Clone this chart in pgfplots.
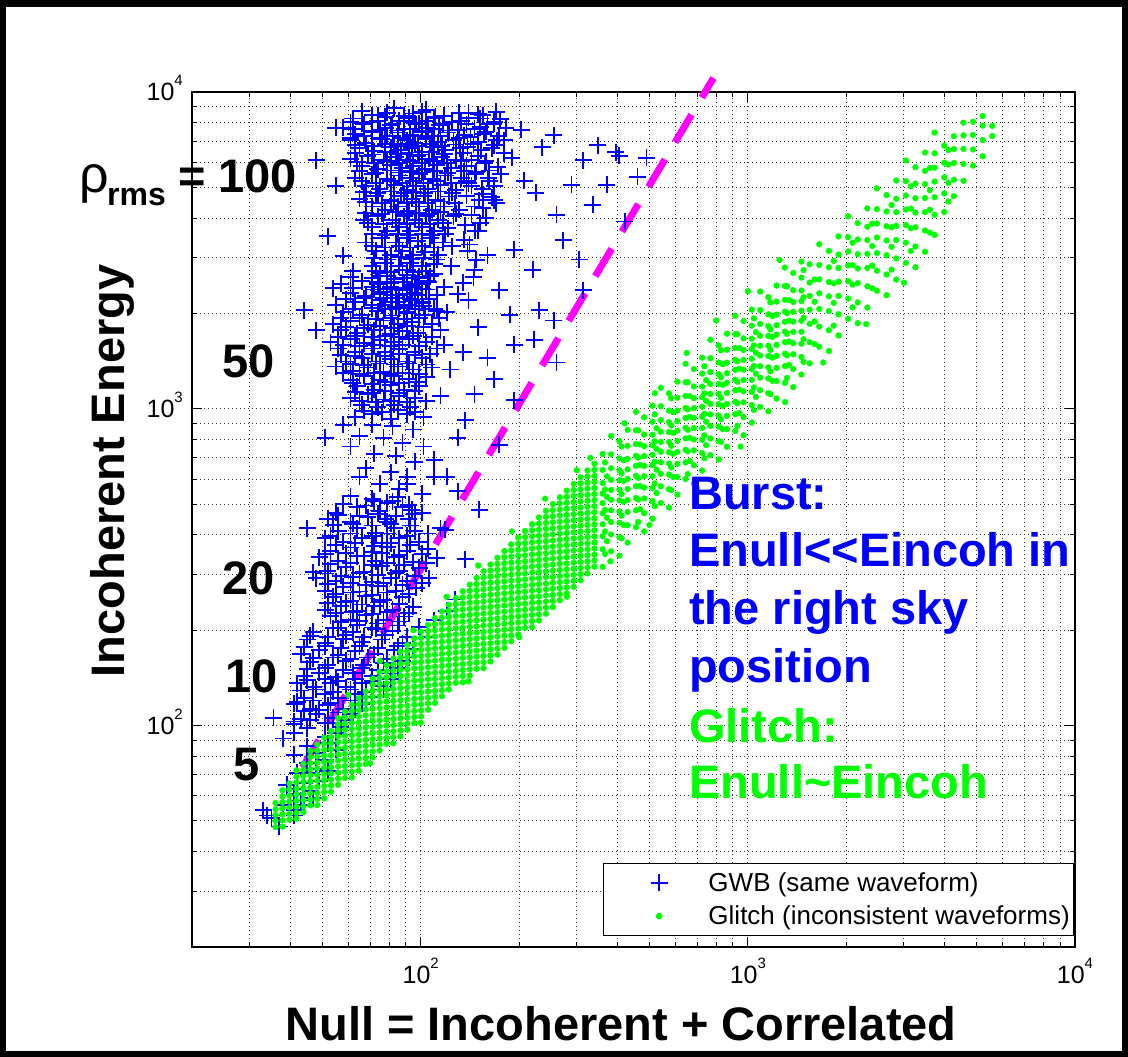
\documentclass[border=0pt]{standalone}
\usepackage{fontspec}
\setmainfont{Liberation Sans}
\usepackage{pgfplots}
\pgfplotsset{compat=1.18}
\definecolor{mblue}{RGB}{0,0,255}
\definecolor{mgreen}{RGB}{0,255,0}
\definecolor{mmag}{RGB}{255,0,255}
\newcommand\tenp[1]{10\raisebox{0.6em}{\fontsize{15}{15}\selectfont #1}}
\tikzset{ticklab/.style={inner sep=0pt, font=\fontsize{25}{25}\selectfont}}
\begin{document}
\begin{tikzpicture}
\fill[black] (0pt,0pt) rectangle (1128pt,-1057pt);
\fill[white] (6pt,-7pt) rectangle (1122pt,-1051pt);
\begin{axis}[
  at={(192pt,-947pt)}, anchor=south west,
  scale only axis, width=883pt, height=855pt,
  xmode=log, ymode=log,
  xmin=20, xmax=10000, ymin=20, ymax=10000,
  clip=false,
  axis line style={line width=1.2pt, black},
  xtick={100,1000,10000}, ytick={100,1000,10000},
  xticklabels={}, yticklabels={},
  minor xtick={30,40,50,60,70,80,90,200,300,400,500,600,700,800,900,2000,3000,4000,5000,6000,7000,8000,9000},
  minor ytick={30,40,50,60,70,80,90,200,300,400,500,600,700,800,900,2000,3000,4000,5000,6000,7000,8000,9000},
  tick align=inside, xtick pos=both, ytick pos=both,
  major tick length=10pt, minor tick length=5pt,
  every tick/.style={black, line width=0.9pt},
  grid=both,
  major grid style={black!80, line width=0.9pt, dash pattern=on 1pt off 3pt},
  minor grid style={black!80, line width=0.9pt, dash pattern=on 1pt off 3pt},
  legend style={at={(0.999,0.098)}, anchor=north east, draw=black, line width=0.8pt,
    fill=white, font=\fontsize{26}{30}\selectfont, inner xsep=2pt, inner ysep=7pt,
    row sep=9pt, cells={anchor=west}},
  legend image code/.code={\path (0pt,0pt) (100pt,0pt); \draw[#1] plot coordinates {(53pt,0pt)};},
]
% GWB injections, five amplitude groups
\addplot[only marks, mark=+, mark size=8.5pt, mblue, mark options={draw=mblue, line width=1.9pt}] coordinates {
(66,8700)(74,8450)(83,8900)(95,8550)(104,8800)(118,8400)
(62,8250)(71,8050)(78,8350)(86,8100)(92,8300)(99,7950)(110,8250)(125,8050)(140,8300)
(58,7700)(67,7900)(75,7600)(81,7850)(89,7650)(97,7900)(105,7700)(114,7850)(130,7600)(160,7900)
(63,7350)(71,7500)(79,7250)(85,7450)(93,7300)(101,7500)(108,7250)(121,7450)(136,7300)
(61,7050)(68,6900)(76,7100)(83,6850)(91,7050)(96,6900)(104,7100)(113,6950)(126,7050)(145,6850)
(65,6650)(72,6500)(81,6700)(87,6550)(94,6650)(101,6450)(110,6700)(119,6550)(132,6650)
(61,6150)(69,6300)(77,6100)(84,6250)(91,6100)(98,6300)(106,6150)(116,6250)(128,6100)(150,6300)
(66,5850)(74,5700)(81,5900)(88,5750)(95,5850)(103,5700)(112,5900)(124,5750)(138,5850)
(63,5350)(71,5500)(79,5300)(86,5450)(93,5350)(99,5500)(109,5300)(119,5450)(133,5350)
(68,5050)(75,4950)(83,5100)(91,4900)(97,5050)(105,4950)(115,5100)(128,4900)(143,5050)
(65,4600)(73,4700)(81,4550)(87,4700)(94,4600)(102,4700)(111,4550)(122,4680)
(71,4350)(78,4250)(85,4350)(92,4200)(99,4350)(108,4250)(118,4350)(131,4250)
(67,3950)(74,4050)(82,3950)(89,4050)(96,3950)(104,4050)(113,3950)(126,4050)
(71,3750)(79,3650)(86,3750)(93,3650)(101,3750)(110,3650)(121,3720)
(68,3350)(76,3450)(84,3350)(91,3450)(98,3380)(107,3450)(117,3350)(136,3420)
(73,3150)(81,3050)(88,3150)(95,3050)(103,3130)(113,3060)
(71,2820)(78,2880)(86,2820)(93,2880)(101,2820)(110,2870)(124,2820)
(75,2630)(83,2570)(91,2640)(98,2580)(107,2620)
(72,2380)(81,2420)(88,2370)(96,2430)(104,2380)(118,2420)
(77,2230)(85,2180)(93,2220)(101,2170)
(74,2030)(82,2070)(91,2020)(99,2060)(112,2040)
(71,8450)(79,8600)(89,8400)(101,8650)(111,8350)(131,8600)
(61,8020)(66,7980)(74,8100)(82,7950)(89,8120)(96,7980)(104,8100)(117,7950)(133,8100)
(62,7620)(71,7550)(78,7680)(85,7560)(93,7640)(101,7560)(110,7650)(122,7560)(146,7650)
(61,7180)(67,7250)(75,7150)(82,7260)(88,7140)(95,7240)(104,7160)(115,7250)(131,7150)
(63,6820)(71,6760)(78,6850)(85,6750)(92,6840)(98,6760)(107,6850)(116,6760)(128,6830)
(63,6420)(71,6350)(78,6450)(85,6360)(92,6440)(99,6350)(108,6450)(118,6370)(135,6420)
(64,6020)(72,5960)(79,6050)(86,5950)(93,6040)(101,5960)(109,6050)(120,5960)(133,6040)
(65,5620)(73,5560)(81,5650)(87,5570)(94,5630)(101,5570)(110,5640)(121,5560)(136,5620)
(66,5220)(73,5160)(81,5240)(88,5170)(95,5230)(102,5160)(112,5240)(124,5170)(138,5220)
(67,4830)(74,4790)(81,4850)(89,4790)(95,4840)(103,4790)(113,4850)(125,4800)
(68,4490)(76,4450)(83,4510)(91,4460)(97,4500)(105,4450)(115,4510)(127,4460)
(68,4160)(76,4120)(84,4170)(91,4130)(97,4160)(106,4120)(115,4170)(128,4130)
(69,3860)(77,3830)(84,3870)(91,3830)(99,3860)(107,3830)(117,3870)
(71,3560)(78,3530)(85,3570)(92,3530)(101,3560)(108,3530)(119,3560)
(71,3260)(78,3230)(86,3270)(93,3230)(101,3260)(110,3230)(125,3260)
(72,2990)(79,2960)(87,3010)(94,2970)(102,2990)(112,2960)
(73,2730)(81,2700)(88,2740)(95,2710)(104,2730)
(74,2510)(81,2490)(89,2510)(97,2480)(106,2510)
(75,2310)(82,2290)(91,2310)(98,2280)
(76,2120)(84,2100)(92,2130)(102,2110)
(140,8600)(155,8450)(170,8650)(138,7900)(152,7750)(167,7950)(182,7700)(142,7200)
(156,7350)(171,7050)(139,6700)(153,6550)(168,6800)(180,6400)(143,6100)(157,5950)
(147,5500)(161,5350)(176,5500)(140,5150)(154,4950)(168,5050)(138,4700)(151,4550)
(165,4650)(143,4100)(158,4010)(137,3800)(150,3650)(139,3150)(146,2750)(135,2500)
(152,8250)(168,8050)(158,7500)(173,7250)(150,6950)(165,6650)(158,6050)(172,5800)
(148,5600)(162,5250)(155,4750)(170,4450)(146,4350)(152,3850)(141,3300)(148,2950)
(235,6700)(255,7300)(314,6100)(405,6300)(490,6200)(289,5100)(336,4400)(273,3400)
(193,3180)(220,2750)(314,2370)(187,1980)(255,1900)(168,4550)(162,5650)(180,7050)
(207,5250)(147,3650)(348,6800)(395,6450)(460,5400)(55,7700)(55,5050)(54,2400)
(44,2050)(48,6100)(52,3500)(58,3040)(150,8500)(175,8200)(203,7600)(160,3050)
(145,2600)(130,2300)(155,4300)(190,6200)(225,4800)(260,4100)(305,2960)(370,5100)(420,3900)
(62,2720)(75,2680)(91,2740)(110,2670)
(57,2480)(66,2530)(74,2470)(83,2520)(94,2460)(105,2540)
(61,2320)(68,2270)(77,2330)(86,2280)(96,2320)(112,2290)
(55,2130)(63,2170)(71,2120)(81,2180)(89,2130)(101,2160)
(58,2020)(66,1980)(74,2030)(82,1970)(91,2010)(103,1980)(120,2020)
(54,1850)(61,1890)(69,1840)(77,1900)(85,1850)(94,1880)(108,1850)
(57,1770)(64,1730)(72,1770)(81,1720)(88,1760)(98,1730)(115,1770)
(53,1620)(61,1660)(67,1610)(75,1650)(83,1620)(92,1660)(104,1620)
(56,1550)(63,1510)(71,1550)(78,1510)(86,1540)(96,1510)(112,1550)(135,1510)
(59,1410)(66,1450)(73,1410)(81,1440)(91,1410)(101,1450)
(55,1360)(62,1320)(69,1350)(77,1310)(85,1360)(95,1330)(108,1350)
(61,1230)(67,1270)(75,1230)(83,1270)(92,1240)(104,1260)
(64,1180)(72,1150)(81,1190)(89,1150)(99,1180)
(61,1080)(69,1110)(77,1070)(86,1100)(96,1080)(115,1100)
(66,1030)(74,1010)(83,1030)(93,1010)
(63,940)(71,960)(81,930)(91,960)(102,940)
(61,2600)(71,2580)(79,2620)(88,2590)(99,2610)
(62,2400)(71,2420)(79,2390)(88,2410)(101,2390)
(59,2220)(67,2230)(75,2210)(84,2230)(94,2210)(106,2220)
(62,2070)(71,2080)(78,2060)(86,2080)(96,2060)(110,2070)
(57,1930)(65,1940)(73,1920)(81,1940)(89,1920)(99,1940)(114,1930)
(59,1810)(67,1800)(75,1820)(83,1800)(91,1820)(102,1810)
(56,1690)(63,1700)(71,1680)(78,1700)(86,1680)(95,1700)(108,1690)
(58,1585)(65,1575)(72,1595)(81,1580)(88,1590)(99,1580)(118,1590)
(57,1480)(63,1470)(71,1490)(78,1470)(86,1485)(96,1475)(107,1485)
(61,1385)(67,1375)(75,1390)(83,1380)(92,1390)(104,1380)
(58,1295)(65,1285)(72,1300)(81,1290)(88,1300)(99,1290)
(62,1210)(71,1200)(78,1215)(86,1205)(97,1215)
(63,1130)(71,1125)(78,1135)(86,1125)(96,1135)
(65,1055)(73,1050)(81,1060)(91,1050)(104,1055)
(67,985)(76,975)(85,990)(96,980)
(71,890)(82,880)(95,860)(65,820)(77,810)(88,780)(102,760)(72,720)(84,710)(96,680)
(68,650)(81,630)(91,610)(75,580)(86,560)(101,540)(71,520)(82,510)(94,480)(78,450)
(110,690)(120,610)(61,760)(58,890)
(193,1590)(146,1110)(230,2050)(174,2370)(123,1330)(137,920)(168,1240)(222,1650)
(193,1065)(174,770)(48,1770)(51,810)(150,1810)(140,2200)(160,1450)(260,1400)(130,810)
(61,530)(72,510)(85,525)
(55,470)(64,490)(75,475)(88,490)(101,470)
(52,450)(61,440)(69,455)(79,440)(92,450)
(56,410)(64,420)(73,405)(83,420)(96,410)(115,420)
(51,390)(58,380)(66,392)(76,378)(86,390)(99,380)
(53,355)(61,365)(71,352)(79,366)(91,355)(105,362)
(49,340)(56,330)(64,342)(73,330)(83,340)(95,328)(112,338)
(52,308)(59,316)(67,306)(76,318)(86,308)(99,315)
(48,292)(55,286)(62,295)(71,284)(81,293)(91,286)(106,292)
(51,266)(58,274)(65,265)(74,275)(84,266)(97,272)
(54,255)(61,248)(68,256)(77,249)(88,255)
(51,232)(57,238)(64,230)(72,238)(82,232)(95,237)
(53,222)(61,216)(68,223)(77,216)(89,221)
(56,203)(64,208)(73,202)(85,207)
(58,502)(68,495)(79,505)(92,498)
(56,462)(65,458)(74,466)(84,458)(96,464)
(54,430)(62,434)(71,428)(81,434)(93,428)
(53,398)(61,404)(71,396)(79,404)(91,398)(105,404)
(55,372)(63,376)(72,370)(81,376)(93,372)
(51,347)(59,350)(67,344)(76,350)(86,345)(101,349)
(53,323)(61,326)(71,321)(79,326)(89,322)(104,325)
(51,302)(57,297)(65,303)(74,298)(84,303)(96,297)
(52,280)(61,282)(68,278)(77,282)(88,278)(101,281)
(55,261)(62,263)(71,259)(79,263)(92,260)
(52,243)(59,245)(66,241)(75,245)(86,242)
(55,227)(62,229)(71,225)(79,229)(92,226)
(57,212)(65,214)(74,210)(86,213)
(119,415)(137,335)(127,250)(151,480)(45,420)(47,305)(130,550)(110,610)(65,610)(91,580)
(47,198)(54,203)(62,197)(71,204)(82,199)
(45,187)(51,182)(58,188)(66,183)(76,187)(88,182)
(43,168)(49,173)(56,167)(63,172)(72,168)(83,173)
(46,159)(52,155)(59,160)(67,155)(77,158)
(44,143)(49,147)(55,142)(62,147)(71,143)(81,146)
(42,136)(47,132)(53,136)(59,132)(66,136)(75,133)
(44,122)(51,126)(56,122)(63,126)(71,123)
(41,117)(46,113)(52,116)(58,113)(66,117)
(43,105)(48,109)(54,106)(61,109)
(41,101)(45,98)(51,102)(57,99)
(46,192)(52,191)(59,193)(67,191)(78,193)(91,191)
(44,177)(51,178)(57,176)(65,178)(74,176)(85,178)
(47,163)(54,164)(61,162)(69,164)(79,162)(92,164)
(45,151)(51,152)(58,150)(66,152)(74,150)(85,152)
(45,139)(51,140)(56,138)(63,140)(71,138)(81,140)
(43,129)(48,130)(54,128)(61,130)(68,128)(77,130)
(42,119)(47,120)(53,118)(61,120)(68,118)
(44,111)(49,112)(56,110)(63,112)
(41,103)(46,104)(52,102)(59,104)
(95,175)(105,190)(88,160)(99,205)(110,215)(120,230)
(38,56)(41,61)(42,63)(44,66)(46,71)(48,73)(51,78)(41,54)(43,58)(46,62)(49,67)(52,72)
(39,65)(42,71)(45,76)(48,82)(52,88)(36,52)(35,51)(37,48)(41,52)(44,56)(47,59)(55,84)
(55,95)(51,92)(45,86)(41,81)(34,52)(33,54)(35.5,106)(38,91)(41,95)
};
\addlegendentry{GWB (same waveform)}
% glitches: null energy close to incoherent energy
\addplot[only marks, mark=*, mark size=2.9pt, mgreen, mark options={draw=mgreen, fill=mgreen}] coordinates {
(36,47.8)(36,50)(36,52.2)(36,54.5)(36,57)
(37.8,48)(37.8,50.2)(37.8,52.4)(37.8,54.8)(37.8,57.3)(37.8,59.8)(37.8,62.5)
(39.7,50.5)(39.7,52.7)(39.7,55.1)(39.7,57.6)(39.7,60.2)(39.7,62.9)(39.7,65.7)
(41.7,50.8)(41.7,53)(41.7,55.4)(41.7,57.9)(41.7,60.5)(41.7,63.2)(41.7,66.1)(41.7,69)(41.7,72.2)
(43.8,53.3)(43.8,55.6)(43.8,58.2)(43.8,60.8)(43.8,63.5)(43.8,66.4)(43.8,69.3)(43.8,72.5)(43.8,75.8)
(46,56)(46,58.4)(46,61.1)(46,63.8)(46,66.7)(46,69.7)(46,72.8)(46,76.1)(46,79.6)(46,83.1)
(48.3,56.1)(48.3,58.7)(48.3,61.3)(48.3,64.1)(48.3,67)(48.3,70)(48.3,73.2)(48.3,76.4)(48.3,79.9)(48.3,83.5)(48.3,87.2)
(50.7,58.9)(50.7,61.7)(50.7,64.4)(50.7,67.3)(50.7,70.3)(50.7,73.5)(50.7,76.8)(50.7,80.3)(50.7,83.9)(50.7,87.7)(50.7,91.6)
(53.2,61.8)(53.2,64.7)(53.2,67.5)(53.2,70.6)(53.2,73.8)(53.2,77.1)(53.2,80.6)(53.2,84.2)(53.2,88)(53.2,92)(53.2,96.1)
(55.9,65)(55.9,68)(55.9,71)(55.9,74.3)(55.9,77.6)(55.9,81.1)(55.9,84.7)(55.9,88.6)(55.9,92.5)(55.9,96.8)(55.9,101)(55.9,105.6)
(58.7,68.3)(58.7,71.4)(58.7,74.5)(58.7,78)(58.7,81.4)(58.7,85.1)(58.7,88.9)(58.7,92.9)(58.7,97.1)(58.7,101.5)(58.7,106)(58.7,110.8)
(61.6,68.6)(61.6,71.6)(61.6,74.9)(61.6,78.2)(61.6,81.8)(61.6,85.5)(61.6,89.3)(61.6,93.3)(61.6,97.5)(61.6,101.9)(61.6,106.5)(61.6,111.3)(61.6,116.3)
(64.7,72)(64.7,75.2)(64.7,78.7)(64.7,82.2)(64.7,85.9)(64.7,89.8)(64.7,93.8)(64.7,98)(64.7,102.4)(64.7,107)(64.7,111.9)(64.7,116.9)(64.7,122.1)
(67.9,75.6)(67.9,79)(67.9,82.6)(67.9,86.3)(67.9,90.2)(67.9,94.3)(67.9,98.5)(67.9,102.9)(67.9,107.6)(67.9,112.4)(67.9,117.5)(67.9,122.7)(67.9,128.2)
(71.3,79.4)(71.3,82.9)(71.3,86.8)(71.3,90.6)(71.3,94.7)(71.3,99)(71.3,103.4)(71.3,108.1)(71.3,112.9)(71.3,118)(71.3,123.4)(71.3,128.8)(71.3,134.6)(71.3,140.7)
(74.9,83.4)(74.9,87.1)(74.9,91.1)(74.9,95.1)(74.9,99.5)(74.9,103.9)(74.9,108.6)(74.9,113.5)(74.9,118.6)(74.9,123.9)(74.9,129.6)(74.9,135.3)(74.9,141.4)(74.9,147.8)
(78.6,87.6)(78.6,91.4)(78.6,95.6)(78.6,99.9)(78.6,104.4)(78.6,109.1)(78.6,114)(78.6,119.1)(78.6,124.5)(78.6,130.1)(78.6,136)(78.6,142)(78.6,148.4)(78.6,155.2)
(82.5,87.9)(82.5,91.9)(82.5,95.9)(82.5,100.3)(82.5,104.8)(82.5,109.6)(82.5,114.5)(82.5,119.6)(82.5,125)(82.5,130.6)(82.5,136.5)(82.5,142.7)(82.5,149)(82.5,155.7)(82.5,162.8)
(86.7,92.4)(86.7,96.5)(86.7,100.8)(86.7,105.5)(86.7,110.1)(86.7,115.1)(86.7,120.3)(86.7,125.7)(86.7,131.4)(86.7,137.3)(86.7,143.4)(86.7,150)(86.7,156.6)(86.7,163.7)(86.7,171.1)
(91,97)(91,101.4)(91,105.9)(91,110.7)(91,115.6)(91,120.9)(91,126.3)(91,132)(91,137.9)(91,144.1)(91,150.6)(91,157.5)(91,164.5)(91,171.9)(91,179.7)
(95.6,101.9)(95.6,106.4)(95.6,111.2)(95.6,116.3)(95.6,121.4)(95.6,127)(95.6,132.6)(95.6,138.6)(95.6,144.8)(95.6,151.4)(95.6,158.1)(95.6,165.4)(95.6,172.7)(95.6,180.5)(95.6,188.6)
(100.3,106.9)(100.3,111.7)(100.3,116.6)(100.3,122)(100.3,127.4)(100.3,133.2)(100.3,139.1)(100.3,145.4)(100.3,151.9)(100.3,158.8)(100.3,165.9)(100.3,173.5)(100.3,181.2)(100.3,189.3)(100.3,197.9)
(105.3,112.2)(105.3,117.3)(105.3,122.5)(105.3,128.1)(105.3,133.8)(105.3,139.9)(105.3,146.1)(105.3,152.7)(105.3,159.6)(105.3,166.7)(105.3,174.2)(105.3,182.2)(105.3,190.3)(105.3,198.8)(105.3,207.8)
(110.6,117.9)(110.6,123.2)(110.6,128.6)(110.6,134.6)(110.6,140.5)(110.6,146.9)(110.6,153.5)(110.6,160.4)(110.6,167.6)(110.6,175.2)(110.6,183)(110.6,191.4)(110.6,199.9)(110.6,208.8)(110.6,218.3)
(116.1,123.7)(116.1,129.3)(116.1,135)(116.1,141.2)(116.1,147.4)(116.1,154.2)(116.1,161.1)(116.1,168.3)(116.1,175.9)(116.1,183.8)(116.1,192)(116.1,200.8)(116.1,209.7)(116.1,219.1)(116.1,229.1)
(121.9,130)(121.9,135.8)(121.9,141.8)(121.9,148.3)(121.9,154.9)(121.9,161.9)(121.9,169.2)(121.9,176.8)(121.9,184.8)(121.9,193.1)(121.9,201.7)(121.9,210.9)(121.9,220.3)(121.9,230.2)(121.9,240.6)
(128,136.4)(128,142.5)(128,148.9)(128,155.7)(128,162.6)(128,170)(128,177.6)(128,185.6)(128,194)(128,202.7)(128,211.8)(128,221.4)(128,231.3)(128,241.6)(128,252.6)
(134.4,137)(134.4,143.3)(134.4,149.7)(134.4,156.3)(134.4,163.5)(134.4,170.7)(134.4,178.5)(134.4,186.5)(134.4,194.9)(134.4,203.7)(134.4,212.8)(134.4,222.4)(134.4,232.5)(134.4,242.8)(134.4,253.8)(134.4,265.3)
(141.2,143.9)(141.2,150.5)(141.2,157.2)(141.2,164.2)(141.2,171.7)(141.2,179.3)(141.2,187.5)(141.2,195.9)(141.2,204.7)(141.2,213.9)(141.2,223.5)(141.2,233.6)(141.2,244.2)(141.2,255)(141.2,266.5)(141.2,278.6)
(148.2,151.1)(148.2,158)(148.2,165)(148.2,172.4)(148.2,180.3)(148.2,188.3)(148.2,196.9)(148.2,205.7)(148.2,214.9)(148.2,224.6)(148.2,234.7)(148.2,245.2)(148.2,256.4)(148.2,267.8)(148.2,279.8)(148.2,292.5)
(155.6,151.8)(155.6,158.6)(155.6,165.8)(155.6,173.3)(155.6,181)(155.6,189.3)(155.6,197.6)(155.6,206.7)(155.6,215.9)(155.6,225.6)(155.6,235.8)(155.6,246.4)(155.6,257.4)(155.6,269.1)(155.6,281.1)(155.6,293.7)(155.6,307)
(163.4,159.4)(163.4,166.5)(163.4,174.1)(163.4,181.9)(163.4,190)(163.4,198.8)(163.4,207.5)(163.4,217)(163.4,226.7)(163.4,236.9)(163.4,247.6)(163.4,258.7)(163.4,270.3)(163.4,282.6)(163.4,295.2)(163.4,308.4)(163.4,322.4)
(171.6,167.4)(171.6,174.9)(171.6,182.9)(171.6,191.1)(171.6,199.5)(171.6,208.7)(171.6,217.9)(171.6,227.9)(171.6,238.1)(171.6,248.8)(171.6,260)(171.6,271.7)(171.6,283.9)(171.6,296.8)(171.6,310)(171.6,323.9)(171.6,338.6)
(180.2,175.9)(180.2,183.7)(180.2,192.1)(180.2,200.7)(180.2,209.6)(180.2,219.2)(180.2,228.9)(180.2,239.3)(180.2,250.1)(180.2,261.3)(180.2,273.1)(180.2,285.3)(180.2,298.1)(180.2,311.7)(180.2,325.6)(180.2,340.2)(180.2,355.6)
(189.2,184.6)(189.2,192.8)(189.2,201.6)(189.2,210.7)(189.2,220)(189.2,230.1)(189.2,240.3)(189.2,251.3)(189.2,262.5)(189.2,274.3)(189.2,286.6)(189.2,299.5)(189.2,313)(189.2,327.2)(189.2,341.8)(189.2,357.1)(189.2,373.3)
(198.6,193.8)(198.6,202.5)(198.6,211.7)(198.6,221.2)(198.6,231)(198.6,241.6)(198.6,252.3)(198.6,263.8)(198.6,275.6)(198.6,288)(198.6,301)(198.6,314.5)(198.6,328.6)(198.6,343.6)(198.6,358.8)(198.6,375)(198.6,392)
(208.5,203.5)(208.5,212.5)(208.5,222.2)(208.5,232.2)(208.5,242.4)(208.5,253.6)(208.5,264.8)(208.5,276.9)(208.5,289.3)(208.5,302.3)(208.5,315.9)(208.5,330.1)(208.5,344.9)(208.5,360.6)(208.5,376.7)(208.5,393.6)(208.5,411.4)
(219,204.5)(219,213.7)(219,223.3)(219,233.4)(219,243.9)(219,254.7)(219,266.5)(219,278.2)(219,290.9)(219,303.9)(219,317.6)(219,331.9)(219,346.8)(219,362.4)(219,378.9)(219,395.7)(219,413.5)(219,432.3)
(229.9,214.7)(229.9,224.4)(229.9,234.4)(229.9,245)(229.9,256.1)(229.9,267.4)(229.9,279.7)(229.9,292.1)(229.9,305.4)(229.9,319.1)(229.9,333.4)(229.9,348.4)(229.9,364.1)(229.9,380.4)(229.9,397.7)(229.9,415.4)(229.9,434.1)(229.9,453.8)
(241.4,225.4)(241.4,235.6)(241.4,246.1)(241.4,257.3)(241.4,268.8)(241.4,280.7)(241.4,293.7)(241.4,306.6)(241.4,320.6)(241.4,335)(241.4,350)(241.4,365.8)(241.4,382.2)(241.4,399.4)(241.4,417.6)(241.4,436.1)(241.4,455.7)(241.4,476.4)
(253.5,236.7)(253.5,247.4)(253.5,258.4)(253.5,270.2)(253.5,282.3)(253.5,294.8)(253.5,308.4)(253.5,322)(253.5,336.7)(253.5,351.8)(253.5,367.6)(253.5,384.1)(253.5,401.4)(253.5,419.4)(253.5,438.5)(253.5,458)(253.5,478.6)(253.5,500.3)
(266.2,248.6)(266.2,259.8)(266.2,271.4)(266.2,283.7)(266.2,296.4)(266.2,309.6)(266.2,323.9)(266.2,338.1)(266.2,353.6)(266.2,369.4)(266.2,386)(266.2,403.4)(266.2,421.5)(266.2,440.4)(266.2,460.5)(266.2,480.9)(266.2,502.6)(266.2,525.3)
(279.5,261)(279.5,272.8)(279.5,284.9)(279.5,297.9)(279.5,311.3)(279.5,325)(279.5,340)(279.5,355)(279.5,371.3)(279.5,387.9)(279.5,405.3)(279.5,423.5)(279.5,442.6)(279.5,462.4)(279.5,483.5)(279.5,505)(279.5,527.7)(279.5,551.6)
(293.5,274.1)(293.5,286.4)(293.5,299.2)(293.5,312.8)(293.5,326.9)(293.5,341.3)(293.5,357.1)(293.5,372.8)(293.5,389.9)(293.5,407.3)(293.5,425.6)(293.5,444.8)(293.5,464.8)(293.5,485.6)(293.5,507.7)(293.5,530.3)(293.5,554.1)(293.5,579.2)
(308.2,287.8)(308.2,300.8)(308.2,314.2)(308.2,328.5)(308.2,343.2)(308.2,358.4)(308.2,375)(308.2,391.5)(308.2,409.4)(308.2,427.7)(308.2,446.9)(308.2,467)(308.2,488)(308.2,509.9)(308.2,533.2)(308.2,556.8)(308.2,581.9)(308.2,608.2)
(323.6,302.2)(323.6,315.8)(323.6,329.8)(323.6,344.9)(323.6,360.3)(323.6,376.3)(323.6,393.7)(323.6,411)(323.6,429.8)(323.6,449)(323.6,469.2)(323.6,490.3)(323.6,512.4)(323.6,535.4)(323.6,559.8)(323.6,584.6)(323.6,610.9)(323.6,638.6)
(339.8,317.3)(339.8,331.6)(339.8,346.4)(339.8,362.1)(339.8,378.4)(339.8,395.1)(339.8,413.4)(339.8,431.6)(339.8,451.3)(339.8,471.5)(339.8,492.7)(339.8,514.9)(339.8,538)(339.8,562.2)(339.8,587.8)(339.8,613.9)(339.8,641.5)(339.8,670.6)
(360,317)(360,360)(360,396)(360,432)(360,468)(360,504)(360,540)(360,583)(360,641)(360,720)
(382,355)(382,401)(382,439)(382,478)(382,516)(382,554)(382,596)(382,649)(382,718)(382,821)
(405,344)(405,393)(405,437)(405,474)(405,514)(405,555)(405,595)(405,640)(405,697)(405,790)
(429,378)(429,429)(429,472)(429,515)(429,558)(429,601)(429,644)(429,695)(429,764)(429,858)
(455,423)(455,478)(455,523)(455,569)(455,614)(455,660)(455,710)(455,774)(455,855)(455,978)
(482,410)(482,468)(482,521)(482,564)(482,612)(482,660)(482,709)(482,762)(482,829)(482,940)
(511,450)(511,511)(511,562)(511,613)(511,664)(511,715)(511,767)(511,828)(511,910)(511,1022)
(542,504)(542,569)(542,623)(542,678)(542,732)(542,786)(542,846)(542,921)(542,1019)(542,1165)
(574,488)(574,557)(574,620)(574,672)(574,729)(574,786)(574,844)(574,907)(574,987)(574,1119)
(609,536)(609,609)(609,670)(609,731)(609,792)(609,853)(609,914)(609,987)(609,1084)(609,1218)
(645,600)(645,677)(645,742)(645,806)(645,871)(645,935)(645,1006)(645,1097)(645,1213)(645,1387)
(684,581)(684,663)(684,739)(684,800)(684,869)(684,937)(684,1005)(684,1081)(684,1176)(684,1334)
(725,638)(725,725)(725,798)(725,870)(725,943)(725,1015)(725,1088)(725,1175)(725,1291)(725,1450)
(768,714)(768,806)(768,883)(768,960)(768,1037)(768,1114)(768,1198)(768,1306)(768,1444)(768,1651)
(814,692)(814,790)(814,879)(814,952)(814,1034)(814,1115)(814,1197)(814,1286)(814,1400)(814,1587)
(863,759)(863,863)(863,949)(863,1036)(863,1122)(863,1208)(863,1295)(863,1398)(863,1536)(863,1726)
(915,851)(915,961)(915,1052)(915,1144)(915,1235)(915,1327)(915,1427)(915,1556)(915,1720)(915,1967)
(970,825)(970,941)(970,1048)(970,1135)(970,1232)(970,1329)(970,1426)(970,1533)(970,1668)(970,1892)
(1028,905)(1028,1028)(1028,1131)(1028,1234)(1028,1336)(1028,1439)(1028,1542)(1028,1665)(1028,1830)(1028,2056)
(1090,1014)(1090,1145)(1090,1254)(1090,1363)(1090,1472)(1090,1581)(1090,1700)(1090,1853)(1090,2049)(1090,2344)
(1155,982)(1155,1120)(1155,1247)(1155,1351)(1155,1467)(1155,1582)(1155,1698)(1155,1825)(1155,1987)(1155,2252)
(1224,1077)(1224,1224)(1224,1346)(1224,1469)(1224,1591)(1224,1714)(1224,1836)(1224,1983)(1224,2179)(1224,2448)
(1298,1207)(1298,1363)(1298,1493)(1298,1623)(1298,1752)(1298,1882)(1298,2025)(1298,2207)(1298,2440)(1298,2791)
(1376,1170)(1376,1335)(1376,1486)(1376,1610)(1376,1748)(1376,1885)(1376,2023)(1376,2174)(1376,2367)(1376,2683)
(1458,1283)(1458,1458)(1458,1604)(1458,1750)(1458,1895)(1458,2041)(1458,2187)(1458,2362)(1458,2595)(1458,2916)
(371,382)(371,453)(371,527)(371,612)(417,430)(417,509)(417,592)(417,688)
(468,482)(468,571)(468,665)(468,772)(526,542)(526,642)(526,747)(526,868)
(591,609)(591,721)(591,839)(591,975)(664,684)(664,810)(664,943)(664,1096)
(746,768)(746,910)(746,1059)(746,1231)(838,863)(838,1022)(838,1190)(838,1383)
(942,970)(942,1149)(942,1338)(942,1554)(1058,1090)(1058,1291)(1058,1502)(1058,1746)
(1189,1225)(1189,1451)(1189,1688)(1189,1962)(1336,1376)(1336,1630)(1336,1897)(1336,2204)
(366,348)(366,410)(366,479)(366,556)(366,677)
(411,390)(411,460)(411,538)(411,625)(411,760)
(462,439)(462,517)(462,605)(462,702)(462,855)
(519,493)(519,581)(519,680)(519,789)(519,960)
(583,554)(583,653)(583,764)(583,886)(583,1079)
(655,622)(655,734)(655,858)(655,996)(655,1212)
(736,699)(736,824)(736,964)(736,1119)(736,1362)
(827,786)(827,926)(827,1083)(827,1257)(827,1530)
(929,883)(929,1040)(929,1217)(929,1412)(929,1719)
(1043,991)(1043,1168)(1043,1366)(1043,1585)(1043,1930)
(1172,1113)(1172,1313)(1172,1535)(1172,1781)(1172,2168)
(1317,1251)(1317,1475)(1317,1725)(1317,2002)(1317,2436)
(1480,1406)(1480,1658)(1480,1939)(1480,2250)(1480,2738)
(1545,1391)(1545,1622)(1545,1854)(1545,2055)(1545,2271)(1545,2503)(1545,2858)
(1653,1570)(1653,1818)(1653,2066)(1653,2314)(1653,2562)(1653,2843)(1653,3306)
(1769,1521)(1769,1769)(1769,2034)(1769,2264)(1769,2512)(1769,2795)(1769,3149)
(1893,1704)(1893,1988)(1893,2272)(1893,2518)(1893,2783)(1893,3067)(1893,3502)
(2025,1924)(2025,2228)(2025,2531)(2025,2835)(2025,3139)(2025,3483)(2025,4050)
(2167,1864)(2167,2167)(2167,2492)(2167,2774)(2167,3077)(2167,3424)(2167,3857)
(2319,2087)(2319,2435)(2319,2783)(2319,3084)(2319,3409)(2319,3757)(2319,4290)
(2481,2357)(2481,2729)(2481,3101)(2481,3473)(2481,3846)(2481,4267)(2481,4962)
(2655,2283)(2655,2655)(2655,3053)(2655,3398)(2655,3770)(2655,4195)(2655,4726)
(2841,2557)(2841,2983)(2841,3409)(2841,3779)(2841,4176)(2841,4602)(2841,5256)
(3040,2888)(3040,3344)(3040,3800)(3040,4256)(3040,4712)(3040,5229)(3040,6080)
(3252,2797)(3252,3252)(3252,3740)(3252,4163)(3252,4618)(3252,5138)(3252,5789)
(3480,3132)(3480,3654)(3480,4176)(3480,4628)(3480,5116)(3480,5638)(3480,6438)
(3723,3537)(3723,4095)(3723,4654)(3723,5212)(3723,5771)(3723,6404)(3723,7446)
(3984,4183)(3984,4781)(3984,5378)(3984,5976)(3984,6773)
(4263,4689)(4263,5286)(4263,5968)(4263,6607)(4263,7248)
(4561,5245)(4561,5929)(4561,6613)(4561,7297)(4561,8000)
(4880,5856)(4880,6588)(4880,7320)(4880,8052)
(5222,6266)(5222,7050)(5222,7833)(5222,8400)
(5587,7262)(5587,7820)
(1600,1600)(1600,1888)(1600,2176)(1600,2560)(1830,1830)(1830,2159)(1830,2489)(1830,2928)
(2090,2090)(2090,2466)(2090,2842)(2090,3344)(2400,2400)(2400,2832)(2400,3264)(2400,3840)
(2750,2750)(2750,3245)(2750,3740)(2750,4400)(3150,3150)(3150,3717)(3150,4284)(3150,5040)
(3600,3600)(3600,4248)(3600,4896)(3600,5760)(4100,4510)(4100,5166)(4100,5904)(4100,6560)
(60,125)(75,160)(95,200)(120,255)(150,320)(190,410)(240,520)(300,640)(330,700)
(420,900)(520,1120)(650,1500)(800,1900)(1000,2350)(1250,2950)
(70,76)(100,102)(140,138)(200,190)(280,255)(380,330)(500,430)(700,560)(950,760)
(1300,1050)(1700,1400)(2300,1850)(3000,2500)
};
\addlegendentry{Glitch (inconsistent waveforms)}
% separating cut
\addplot[mmag, line width=7pt, dash pattern=on 32pt off 20pt, forget plot] coordinates {(43.5,73.7) (785,11070)};
% anchor points for the decade labels
\coordinate (x2) at (axis cs:100,20);
\coordinate (x3) at (axis cs:1000,20);
\coordinate (x4) at (axis cs:10000,20);
\coordinate (y2) at (axis cs:20,100);
\coordinate (y3) at (axis cs:20,1000);
\coordinate (y4) at (axis cs:20,10000);
\end{axis}
% decade labels
\node[ticklab, anchor=base] at ([yshift=-36pt]x2) {\tenp{2}};
\node[ticklab, anchor=base] at ([yshift=-36pt]x3) {\tenp{3}};
\node[ticklab, anchor=base] at ([yshift=-36pt]x4) {\tenp{4}};
\node[ticklab, anchor=base east] at ([xshift=-9pt,yshift=-9pt]y2) {\tenp{2}};
\node[ticklab, anchor=base east] at ([xshift=-9pt,yshift=-9pt]y3) {\tenp{3}};
\node[ticklab, anchor=base east] at ([xshift=-9pt,yshift=-9pt]y4) {\tenp{4}};
% axis titles
\node[rotate=90, anchor=base, inner sep=0pt, font=\bfseries\fontsize{47}{47}\selectfont] at (124pt,-471pt) {Incoherent Energy};
\node[anchor=base, inner sep=0pt, font=\bfseries\fontsize{47}{47}\selectfont] at (621pt,-1040pt) {Null = Incoherent + Correlated};
% amplitude labels
\node[anchor=base west, inner sep=0pt, font=\fontsize{52}{52}\selectfont] at (79pt,-192pt) {ρ};
\node[anchor=base west, inner sep=0pt, font=\bfseries\fontsize{32}{32}\selectfont] at (107pt,-205pt) {rms};
\node[anchor=base west, inner sep=0pt, font=\bfseries\fontsize{47}{47}\selectfont] at (178pt,-192pt) {= 100};
\node[anchor=base west, inner sep=0pt, font=\bfseries\fontsize{47}{47}\selectfont] at (222pt,-377pt) {50};
\node[anchor=base west, inner sep=0pt, font=\bfseries\fontsize{47}{47}\selectfont] at (222pt,-594pt) {20};
\node[anchor=base west, inner sep=0pt, font=\bfseries\fontsize{47}{47}\selectfont] at (225pt,-692pt) {10};
\node[anchor=base west, inner sep=0pt, font=\bfseries\fontsize{47}{47}\selectfont] at (233pt,-780pt) {5};
% explanation (base anchor sits on the last line)
\node[anchor=base west, inner sep=0pt, align=left, text=mblue, font=\bfseries\fontsize{47}{57.6}\selectfont] at (689pt,-682pt) {Burst:\\Enull<{}<Eincoh in\\the right sky\\position};
\node[anchor=base west, inner sep=0pt, align=left, text=mgreen, font=\bfseries\fontsize{47}{56}\selectfont] at (689pt,-798pt) {Glitch:\\Enull\textasciitilde Eincoh};
\end{tikzpicture}
\end{document}
